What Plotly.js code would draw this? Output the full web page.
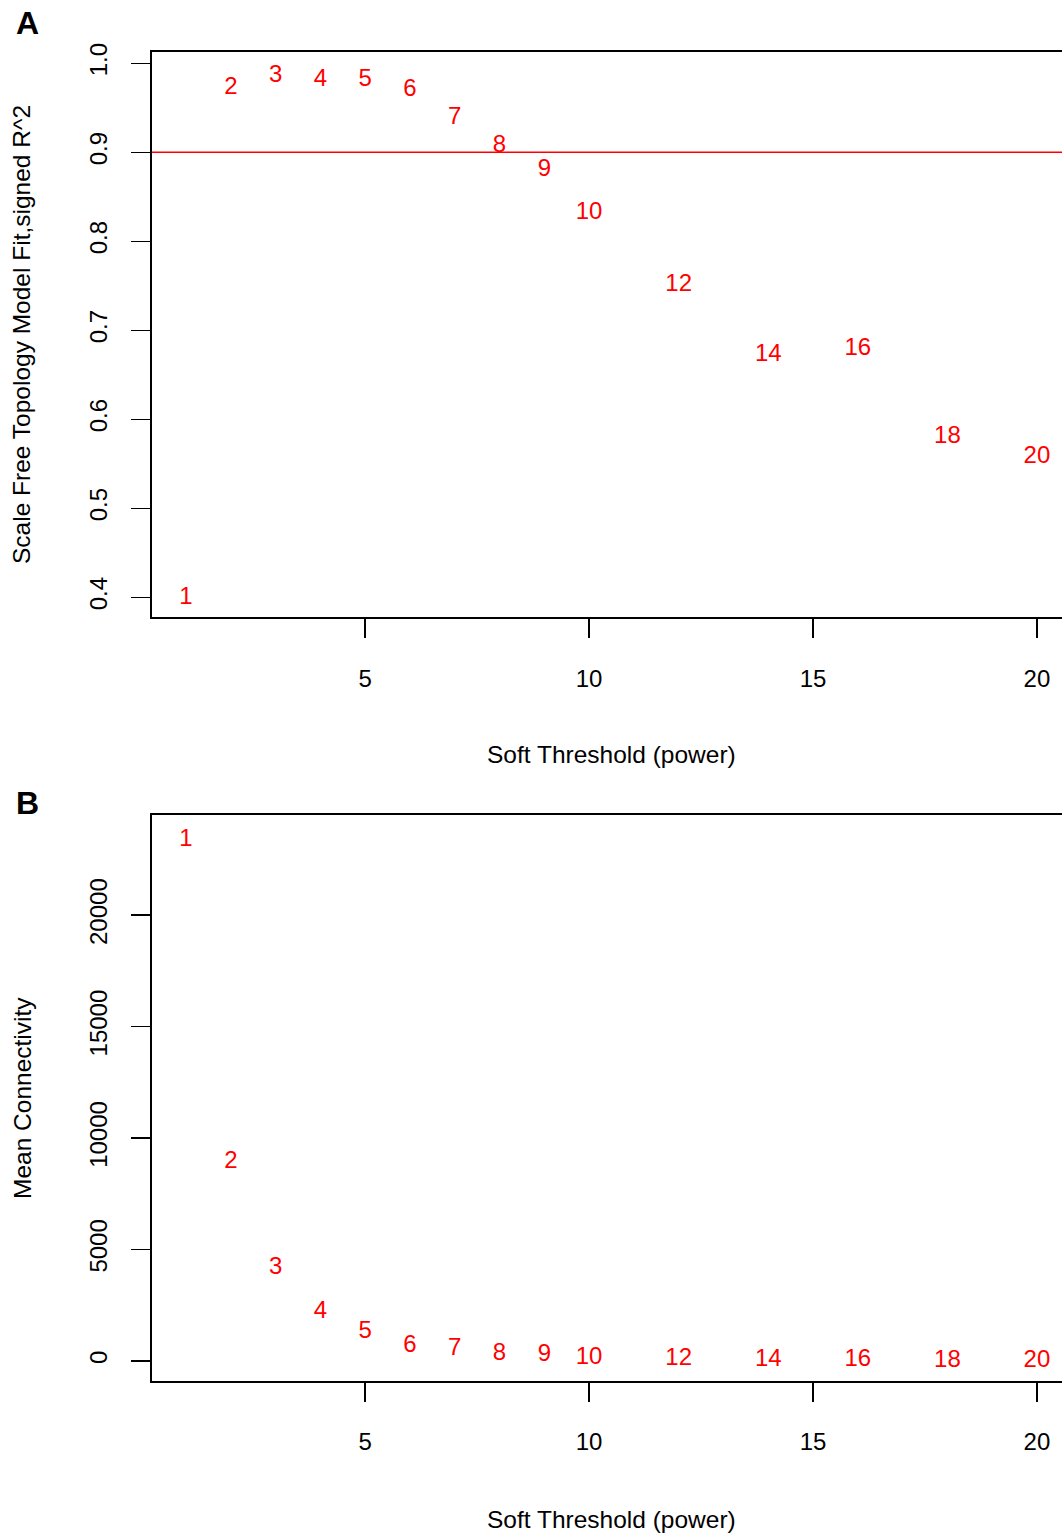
<!DOCTYPE html>
<html>
<head>
<meta charset="utf-8">
<script src="https://cdn.plot.ly/plotly-3.0.1.min.js"></script>
<style>
  html, body { margin: 0; padding: 0; overflow: hidden; background: #fff; }
  #chart { width: 1080px; height: 1533px; }
</style>
</head>
<body>
<div id="chart"></div>
<script>
// ---- data ----
const powers = [1, 2, 3, 4, 5, 6, 7, 8, 9, 10, 12, 14, 16, 18, 20];
const scaleFreeFit = [0.399, 0.972, 0.986, 0.981, 0.981, 0.970, 0.939, 0.907, 0.880, 0.832, 0.751, 0.672, 0.679, 0.580, 0.558];
const meanConnectivity = [23380, 8930, 4173, 2199, 1301, 673, 520, 320, 250, 150, 70, 40, 20, 12, 8];
const rsqThreshold = 0.9;
const xTickVals = [5, 10, 15, 20];
const yTickValsA = [0.4, 0.5, 0.6, 0.7, 0.8, 0.9, 1.0];
const yTickValsB = [0, 5000, 10000, 15000, 20000];
const labelsText = powers.map(String);
const xTitle = "Soft Threshold (power)";
const yTitleA = "Scale Free Topology Model Fit,signed R^2";
const yTitleB = "Mean Connectivity";

// ---- layout helpers ----
const W = 1080, H = 1533;
const px = v => v / W;
const py = v => 1 - v / H;
const FONT = "Arial, 'Liberation Sans', sans-serif";
const RED = "#ff0000";
const TICK_SIZE = 24;
const TITLE_SIZE = 24.5;

const xAxisBase = {
  range: [0.24, 20.76],
  tickmode: "array",
  tickvals: xTickVals,
  ticks: "outside",
  ticklen: 19,
  tickwidth: 1.5,
  tickcolor: "#000",
  showline: true,
  linecolor: "#000",
  linewidth: 1.6,
  mirror: true,
  showgrid: false,
  zeroline: false,
  tickfont: { family: FONT, size: TICK_SIZE, color: "#000" },
  ticklabelstandoff: 20,
  automargin: false,
  fixedrange: true
};
const yAxisBase = {
  ticks: "outside",
  ticklen: 19,
  tickwidth: 1.5,
  tickcolor: "#000",
  tickangle: -90,
  showline: true,
  linecolor: "#000",
  linewidth: 1.6,
  mirror: true,
  showgrid: false,
  zeroline: false,
  tickfont: { family: FONT, size: TICK_SIZE, color: "#000" },
  ticklabelstandoff: 15,
  automargin: false,
  fixedrange: true
};

const traces = [
  {
    x: powers, y: scaleFreeFit, text: labelsText,
    mode: "text", type: "scatter", textposition: "middle center",
    textfont: { family: FONT, size: TICK_SIZE, color: RED },
    xaxis: "x", yaxis: "y", hoverinfo: "skip", showlegend: false
  },
  {
    x: powers, y: meanConnectivity, text: labelsText,
    mode: "text", type: "scatter", textposition: "middle center",
    textfont: { family: FONT, size: TICK_SIZE, color: RED },
    xaxis: "x2", yaxis: "y2", hoverinfo: "skip", showlegend: false
  }
];

const layout = {
  width: W, height: H,
  margin: { l: 0, r: 0, t: 0, b: 0 },
  paper_bgcolor: "#fff",
  plot_bgcolor: "#fff",
  showlegend: false,
  xaxis: Object.assign({}, xAxisBase, { domain: [px(152), px(1071)], anchor: "y" }),
  yaxis: Object.assign({}, yAxisBase, {
    domain: [py(617.3), py(51.7)], anchor: "x",
    range: [0.3775, 1.013], tickmode: "array", tickvals: yTickValsA, tickformat: ".1f"
  }),
  xaxis2: Object.assign({}, xAxisBase, { domain: [px(152), px(1071)], anchor: "y2" }),
  yaxis2: Object.assign({}, yAxisBase, {
    domain: [py(1381), py(814.7)], anchor: "x2",
    range: [-900, 24510], tickmode: "array", tickvals: yTickValsB, tickformat: "d"
  }),
  shapes: [
    {
      type: "line", xref: "x domain", yref: "y",
      x0: 0, x1: 1, y0: rsqThreshold, y1: rsqThreshold,
      line: { color: RED, width: 1.6 }
    }
  ],
  annotations: [
    { text: "<b>A</b>", x: px(27), y: py(23), xref: "paper", yref: "paper",
      showarrow: false, xanchor: "center", yanchor: "middle",
      font: { family: FONT, size: 32, color: "#000" } },
    { text: "<b>B</b>", x: px(27), y: py(803), xref: "paper", yref: "paper",
      showarrow: false, xanchor: "center", yanchor: "middle",
      font: { family: FONT, size: 32, color: "#000" } },
    { text: xTitle, x: px(611), y: py(755), xref: "paper", yref: "paper",
      showarrow: false, xanchor: "center", yanchor: "middle",
      font: { family: FONT, size: TITLE_SIZE, color: "#000" } },
    { text: xTitle, x: px(611), y: py(1519), xref: "paper", yref: "paper",
      showarrow: false, xanchor: "center", yanchor: "middle",
      font: { family: FONT, size: TITLE_SIZE, color: "#000" } },
    { text: yTitleA, x: px(22), y: py(335), xref: "paper", yref: "paper",
      showarrow: false, xanchor: "center", yanchor: "middle", textangle: -90,
      font: { family: FONT, size: TITLE_SIZE, color: "#000" } },
    { text: yTitleB, x: px(22), y: py(1098), xref: "paper", yref: "paper",
      showarrow: false, xanchor: "center", yanchor: "middle", textangle: -90,
      font: { family: FONT, size: TITLE_SIZE, color: "#000" } }
  ]
};

Plotly.newPlot("chart", traces, layout, { staticPlot: true, displayModeBar: false });
</script>
</body>
</html>
